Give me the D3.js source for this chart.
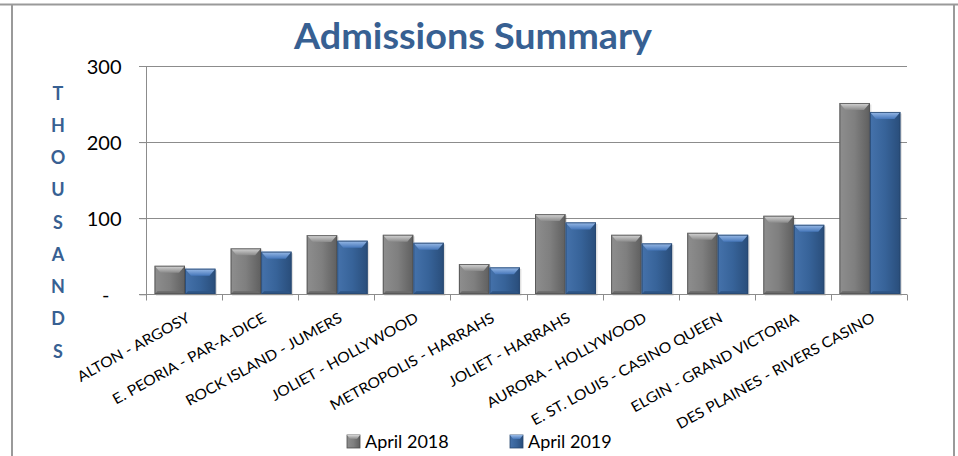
<!DOCTYPE html>
<html>
<head>
<meta charset="utf-8">
<script src="https://cdn.jsdelivr.net/npm/d3@7/dist/d3.min.js"></script>
<style>
  html, body { margin: 0; padding: 0; background: #fff; }
  svg { display: block; font-family: Lato, "Open Sans", sans-serif; }
</style>
</head>
<body>
<svg id="chart" width="958" height="456"></svg>
<script>
const categories = ["ALTON - ARGOSY", "E. PEORIA - PAR-A-DICE", "ROCK ISLAND - JUMERS", "JOLIET - HOLLYWOOD",
  "METROPOLIS - HARRAHS", "JOLIET - HARRAHS", "AURORA - HOLLYWOOD", "E. ST. LOUIS - CASINO QUEEN",
  "ELGIN - GRAND VICTORIA", "DES PLAINES - RIVERS CASINO"];
const seriesNames = ["April 2018", "April 2019"];
const april2018 = [37.5, 60.4, 77.8, 78.2, 39.8, 105.4, 78.2, 80.8, 103.2, 251.4];
const april2019 = [33.6, 56.0, 70.4, 67.7, 35.4, 94.5, 66.9, 78.2, 91.3, 239.6];
const yTicks = [0, 100, 200, 300];
const yTickLabels = ["-", "100", "200", "300"];
const axisTitle = "THOUSANDS";
const chartTitle = "Admissions Summary";

const svg = d3.select("#chart");
const defs = svg.append("defs");

const palette = {
  "April 2018": { base: "#7f7f7f", edgeL: "#8e8e8e", edgeR: "#5f5f5f", topA: "#d8d8d8", topB: "#8a8a8a", bottom: "#6a6a6a", stroke: "#4d4d4d" },
  "April 2019": { base: "#376399", edgeL: "#4572ab", edgeR: "#294d7a", topA: "#9bbce8", topB: "#4677ba", bottom: "#2e5585", stroke: "#27466e" }
};
seriesNames.forEach((s, i) => {
  const p = palette[s];
  const gb = defs.append("linearGradient").attr("id", "base" + i).attr("x1", 0).attr("x2", 1).attr("y1", 0).attr("y2", 0);
  gb.append("stop").attr("offset", 0).attr("stop-color", p.edgeL);
  gb.append("stop").attr("offset", 0.5).attr("stop-color", p.base);
  gb.append("stop").attr("offset", 1).attr("stop-color", p.edgeR);
  const gt = defs.append("linearGradient").attr("id", "top" + i).attr("x1", 0).attr("x2", 0).attr("y1", 0).attr("y2", 1);
  gt.append("stop").attr("offset", 0).attr("stop-color", p.topA);
  gt.append("stop").attr("offset", 1).attr("stop-color", p.topB);
});

// frame
svg.append("line").attr("x1", 0).attr("x2", 958).attr("y1", 4.5).attr("y2", 4.5).attr("stroke", "#9a9a9a").attr("stroke-width", 2);
svg.append("line").attr("x1", 12).attr("x2", 12).attr("y1", 4).attr("y2", 456).attr("stroke", "#9a9a9a").attr("stroke-width", 2);
svg.append("line").attr("x1", 954).attr("x2", 954).attr("y1", 4).attr("y2", 456).attr("stroke", "#9a9a9a").attr("stroke-width", 2);

// title
svg.append("text").attr("x", 473).attr("y", 49).attr("text-anchor", "middle")
  .attr("font-size", 37).attr("font-weight", "bold").attr("fill", "#376092")
  .attr("textLength", 358).attr("lengthAdjust", "spacingAndGlyphs").text(chartTitle);

const pLeft = 146, pRight = 907, pTop = 66, pBottom = 294.3;
const x0 = d3.scaleBand().domain(categories).range([pLeft, pRight]).padding(0);
const x1 = d3.scaleBand().domain(seriesNames).range([8.5, 69.5]).padding(0);
const y = d3.scaleLinear().domain([0, 300]).range([pBottom, pTop]);

// gridlines
svg.append("g").selectAll("line").data(yTicks.filter(d => d > 0)).join("line")
  .attr("x1", pLeft - 7).attr("x2", pRight).attr("y1", d => Math.round(y(d)) + 0.5).attr("y2", d => Math.round(y(d)) + 0.5)
  .attr("stroke", "#8c8c8c").attr("stroke-width", 1);

// y axis
const yAxis = d3.axisLeft(y).tickValues(yTicks).tickSize(7).tickFormat(d => yTickLabels[yTicks.indexOf(d)]);
const gy = svg.append("g").attr("transform", `translate(${pLeft + 0.5},0)`).call(yAxis);
gy.select(".domain").attr("stroke", "#8c8c8c").attr("d", `M0,${pTop}V${pBottom}`);
gy.selectAll(".tick line").attr("stroke", "#8c8c8c");
gy.selectAll(".tick text").attr("font-size", 20).attr("font-family", "Lato, sans-serif").attr("fill", "#000")
  .attr("x", -25).attr("dy", "0.36em");
gy.selectAll(".tick").filter(d => d === 0).select("text").attr("x", -37);

// axis title (stacked letters)
svg.append("g").selectAll("text").data(axisTitle.split("")).join("text")
  .attr("x", 58).attr("y", (d, i) => 99.5 + i * 32.25).attr("text-anchor", "middle")
  .attr("font-size", 18).attr("font-weight", "bold").attr("fill", "#376092").text(d => d);

// bars
const seriesData = [april2018, april2019];
const bevel = 6;
categories.forEach((c, ci) => {
  seriesNames.forEach((s, si) => {
    const v = seriesData[si][ci];
    const bx = x0(c) + x1(s), bw = x1.bandwidth(), by = y(v), bh = y(0) - y(v);
    const p = palette[s];
    const g = svg.append("g");
    g.append("rect").attr("x", bx + 1.5).attr("y", by + 1.5).attr("width", bw).attr("height", bh).attr("fill", "#000").attr("opacity", 0.12);
    g.append("rect").attr("x", bx).attr("y", by).attr("width", bw).attr("height", bh).attr("fill", `url(#base${si})`);
    g.append("polygon").attr("points", [[bx, by], [bx + bw, by], [bx + bw - bevel, by + bevel + 1], [bx + bevel, by + bevel + 1]].map(q => q.join(",")).join(" "))
      .attr("fill", `url(#top${si})`);
    g.append("polygon").attr("points", [[bx, by + bh], [bx + bw, by + bh], [bx + bw - 3, by + bh - 3], [bx + 3, by + bh - 3]].map(q => q.join(",")).join(" "))
      .attr("fill", p.bottom);
    g.append("rect").attr("x", bx + 0.5).attr("y", by + 0.5).attr("width", bw - 1).attr("height", bh - 1)
      .attr("fill", "none").attr("stroke", p.stroke).attr("stroke-width", 1).attr("opacity", 0.8);
  });
});

// x axis
const xAxis = d3.axisBottom(x0).tickSize(0).tickFormat("");
const gx = svg.append("g").attr("transform", `translate(0,${Math.round(pBottom) + 0.5})`).call(xAxis);
gx.select(".domain").attr("stroke", "#8c8c8c").attr("d", `M${pLeft - 7},0H${pRight}`);
const bounds = [...categories.map(c => x0(c)), pRight];
gx.selectAll(".cattick").data(bounds).join("line").attr("class", "cattick")
  .attr("x1", d => Math.round(d) + 0.5).attr("x2", d => Math.round(d) + 0.5).attr("y1", 0).attr("y2", 6)
  .attr("stroke", "#8c8c8c");

// category labels
const catLabels = svg.append("g").selectAll("text").data(categories).join("text")
  .attr("transform", c => `translate(${x0(c) + x0.bandwidth() / 2 + 7},321) rotate(-29)`)
  .attr("text-anchor", "end").attr("font-size", 14.5).attr("fill", "#000").text(c => c);
const lens = catLabels.nodes().map(n => n.getComputedTextLength());
const stretch = (129 / lens[0] + 219 / lens[9]) / 2;
catLabels.each(function (d, i) {
  d3.select(this).attr("textLength", lens[i] * stretch).attr("lengthAdjust", "spacingAndGlyphs");
});

// legend
const legendX = [347, 510];
const lg = svg.append("g").selectAll("g").data(seriesNames).join("g")
  .attr("transform", (d, i) => `translate(${legendX[i]},435)`);
lg.append("rect").attr("width", 13).attr("height", 13).attr("fill", (d, i) => `url(#base${i})`)
  .attr("stroke", d => palette[d].stroke).attr("stroke-width", 0.8);
lg.append("polygon").attr("points", "0,0 13,0 10,4 3,4").attr("fill", (d, i) => `url(#top${i})`);
lg.append("text").attr("x", 18).attr("y", 13).attr("font-size", 18).attr("fill", "#000").text(d => d);
</script>
</body>
</html>
